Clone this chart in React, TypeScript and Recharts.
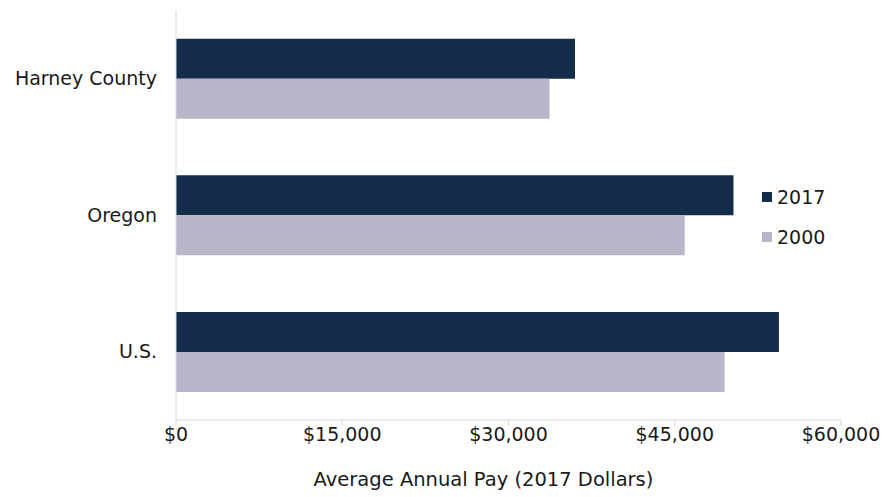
import { BarChart, Bar, XAxis, YAxis, Legend, Label } from 'recharts';

const regions = ['Harney County', 'Oregon', 'U.S.'];
const pay2017 = [36000, 50300, 54400];
const pay2000 = [33700, 45900, 49500];
const xTicks = [0, 15000, 30000, 45000, 60000];
const seriesOrder = ['2017', '2000'];

const data = regions.map((region, i) => ({
  region,
  y2017: pay2017[i],
  y2000: pay2000[i],
}));

const FONT = '"DejaVu Sans", Verdana, sans-serif';
const NAVY = '#132d4b';
const LAVENDER = '#bbb5ca';

const formatMoney = (v: number) => '$' + v.toLocaleString('en-US');

const renderLegend = (props: any) => {
  const items = [...(props.payload || [])].sort(
    (a: any, b: any) => seriesOrder.indexOf(a.value) - seriesOrder.indexOf(b.value)
  );
  return (
    <div style={{ fontFamily: FONT, fontSize: 19, color: '#1a1a1a' }}>
      {items.map((p: any) => (
        <div key={p.value} style={{ display: 'flex', alignItems: 'center', height: 40 }}>
          <span
            style={{
              display: 'inline-block',
              width: 10,
              height: 10,
              background: p.color,
              marginRight: 5,
            }}
          />
          {p.value}
        </div>
      ))}
    </div>
  );
};

export default function App() {
  return (
    <div style={{ position: 'absolute', left: 0, top: 0, background: '#fff' }}>
      <BarChart
        width={886}
        height={497}
        data={data}
        layout="vertical"
        margin={{ top: 10, right: 45, bottom: 0, left: 0 }}
        barCategoryGap="21%"
        barGap={0}
      >
        <XAxis
          type="number"
          domain={[0, 60000]}
          ticks={xTicks}
          tickFormatter={formatMoney}
          stroke="#d6d6dc"
          tick={{ fill: '#1a1a1a', fontSize: 19, fontFamily: FONT }}
          tickSize={6}
          height={77}
        >
          <Label
            value="Average Annual Pay (2017 Dollars)"
            position="insideBottom"
            offset={11}
            dx={-25}
            style={{ fill: '#1a1a1a', fontSize: 19.5, fontFamily: FONT }}
          />
        </XAxis>
        <YAxis
          type="category"
          dataKey="region"
          width={176}
          stroke="#d6d6dc"
          tickLine={false}
          tick={{ fill: '#1a1a1a', fontSize: 19, fontFamily: FONT }}
          tickMargin={13}
        />
        <Legend
          layout="vertical"
          align="center"
          verticalAlign="middle"
          content={renderLegend}
          wrapperStyle={{ left: 762, top: 177, width: 100, height: 80 }}
        />
        <Bar dataKey="y2017" name="2017" fill={NAVY} isAnimationActive={false} />
        <Bar dataKey="y2000" name="2000" fill={LAVENDER} isAnimationActive={false} />
      </BarChart>
    </div>
  );
}
